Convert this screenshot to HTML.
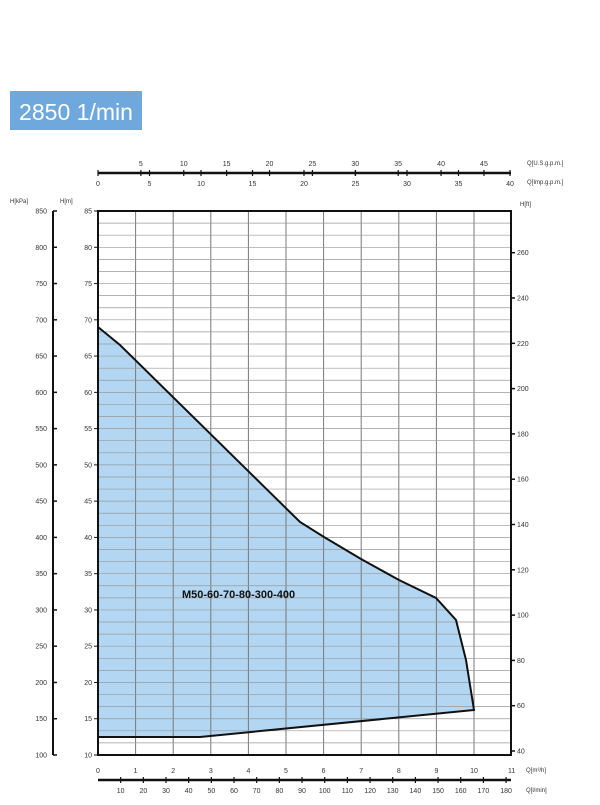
<!DOCTYPE html><html><head><style>body{margin:0;background:#fff}</style></head><body>
<svg width="600" height="800" xmlns="http://www.w3.org/2000/svg" font-family="Liberation Sans, sans-serif">
<rect x="10" y="91" width="132" height="39" fill="#6fa8dc"/>
<text x="19" y="120" font-size="23" fill="#fff" textLength="114" lengthAdjust="spacingAndGlyphs">2850 1/min</text>
<path d="M98,327 L120,345 L300,522 L324,537 L361,559 L399,580 L436,598 L456,620 L466,660 L474,710 L200,737 L98,737 Z" fill="#b3d7f2"/>
<g stroke="#777" stroke-width="1" id="grid"></g>
<path d="M98,327 L120,345 L300,522 L324,537 L361,559 L399,580 L436,598 L456,620 L466,660 L474,710 L200,737 L98,737" fill="none" stroke="#111" stroke-width="2"/>
<rect x="98" y="211" width="413" height="544" fill="none" stroke="#111" stroke-width="2"/>
<text x="182" y="598" font-size="11" font-weight="bold" fill="#111">M50-60-70-80-300-400</text>
<g font-size="7" fill="#333" id="labels"></g>
<line x1="98" y1="173" x2="511" y2="173" stroke="#111" stroke-width="2.5"/>
<line x1="98" y1="780" x2="511" y2="780" stroke="#111" stroke-width="2.5"/>
<line x1="53" y1="211" x2="53" y2="755" stroke="#111" stroke-width="2"/>
<g font-size="6" fill="#333">
<text x="10" y="203">H[kPa]</text><text x="60" y="203">H[m]</text><text x="520" y="206">H[ft]</text>
<text x="527" y="165">Q[U.S.g.p.m.]</text><text x="527" y="184">Q[Imp.g.p.m.]</text>
<text x="526" y="772">Q[m³/h]</text><text x="526" y="792">Q[l/min]</text>
</g>
</svg>
<script>
const ns="http://www.w3.org/2000/svg",g=document.getElementById('grid'),L=document.getElementById('labels');
function ln(a,b,c,d,w,col){const e=document.createElementNS(ns,'line');e.setAttribute('x1',a);e.setAttribute('y1',b);e.setAttribute('x2',c);e.setAttribute('y2',d);e.setAttribute('stroke',col||'#777');e.setAttribute('stroke-width',w||1);g.appendChild(e);}
function tx(x,y,t,a){const e=document.createElementNS(ns,'text');e.setAttribute('x',x);e.setAttribute('y',y);if(a)e.setAttribute('text-anchor',a);e.textContent=t;L.appendChild(e);}
const X=q=>98+q*37.6,Y=h=>755-(h-10)*7.253;
for(let q=1;q<11;q++)ln(X(q),211,X(q),755,1,'#777');
for(let i=1;i<45;i++){const h=10+i*5/3;ln(98,Y(h),511,Y(h),0.7,'#999');}
for(let h=10;h<=85;h+=5){tx(92,Y(h)+2.5,h,'end');ln(94,Y(h),98,Y(h),1,'#111');}
for(let k=100;k<=850;k+=50){const y=755-(k-100)*544/750;tx(47,y+2.5,k,'end');ln(53,y,57,y,1.5,'#111');}
for(let f=40;f<=260;f+=20){const y=751-(f-40)*2.265;tx(517,y+2.5,f);ln(511,y,515,y,1.5,'#111');}
for(let q=0;q<=11;q++)tx(X(q),773,q,'middle');
for(let l=10;l<=180;l+=10){const x=98+l*2.267;tx(x,793,l,'middle');ln(x,777,x,783,1.2,'#111');}
for(let i=0;i<=40;i+=5){const x=98+i*10.3;tx(x,186,i,'middle');ln(x,170,x,176,1.2,'#111');}
for(let u=5;u<=45;u+=5){const x=98+u*0.8327*10.3;tx(x,166,u,'middle');ln(x,170,x,176,1.2,'#111');}
</script>
</body></html>
